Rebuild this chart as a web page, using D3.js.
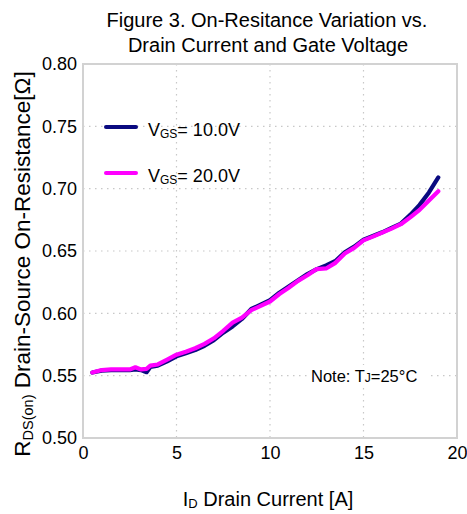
<!DOCTYPE html>
<html><head><meta charset="utf-8">
<script src="https://cdn.jsdelivr.net/npm/d3@7"></script>
<style>body{margin:0;background:#fff}svg{display:block}text{font-family:"Liberation Sans",Arial,sans-serif;fill:#000}</style>
</head><body>
<script>
const current = [0.5,1,1.5,2,2.5,2.8,3.1,3.4,3.6,4,4.5,5,5.5,6,6.5,7,7.5,8,8.5,9,9.5,10,10.5,11,11.5,12,12.5,13,13.5,14,14.5,15,15.5,16,16.5,17,17.5,18,18.5,19];
const rds10 = [0.5525,0.554,0.5545,0.5545,0.5545,0.555,0.5545,0.5528,0.557,0.558,0.5615,0.5655,0.568,0.5705,0.574,0.5785,0.5845,0.5895,0.5955,0.6035,0.607,0.6105,0.6165,0.6215,0.6265,0.6315,0.6355,0.6385,0.642,0.649,0.6535,0.659,0.662,0.665,0.6685,0.672,0.679,0.687,0.697,0.709];
const rds20 = [0.5525,0.5545,0.555,0.555,0.555,0.5567,0.555,0.5555,0.558,0.559,0.5628,0.5668,0.5692,0.572,0.5755,0.58,0.586,0.5925,0.5965,0.6025,0.606,0.6095,0.6155,0.6205,0.626,0.6305,0.6355,0.636,0.6405,0.648,0.6525,0.6585,0.6615,0.6648,0.668,0.6715,0.677,0.683,0.6905,0.698];
const xTicks = [0,5,10,15,20];
const yTicks = [0.50,0.55,0.60,0.65,0.70,0.75,0.80];
const seriesNames = ["10.0V","20.0V"];
const seriesColors = ["#0a0a80","#ff00ff"];

const W=467,H=514;
const L=83,R=457,T=64,B=438;
const svg=d3.select("body").append("svg").attr("width",W).attr("height",H);
const x=d3.scaleLinear().domain([0,20]).range([L,R]);
const y=d3.scaleLinear().domain([0.5,0.8]).range([B,T]);

// grid
const g=svg.append("g");
g.selectAll(".gx").data(xTicks.slice(1,-1)).enter().append("line")
 .attr("x1",d=>x(d)).attr("x2",d=>x(d)).attr("y1",T).attr("y2",B)
 .attr("stroke","#c8c8c8").attr("stroke-width",1.2).attr("stroke-dasharray","1.5,4.5");
g.selectAll(".gy").data(yTicks.slice(1,-1)).enter().append("line")
 .attr("x1",L).attr("x2",R).attr("y1",d=>y(d)).attr("y2",d=>y(d))
 .attr("stroke","#c8c8c8").attr("stroke-width",1.2).attr("stroke-dasharray","1.5,4.5");
// frame
svg.append("rect").attr("x",L).attr("y",T).attr("width",R-L).attr("height",B-T)
 .attr("fill","none").attr("stroke","#d2d2d2").attr("stroke-width",2);

// axes
const xa=svg.append("g").attr("transform",`translate(0,${B})`)
 .call(d3.axisBottom(x).tickValues(xTicks).tickSize(0).tickPadding(8).tickFormat(d3.format("d")));
xa.select(".domain").remove();
xa.selectAll("text").style("font-size","18px").attr("dy","0.71em");
const ya=svg.append("g").attr("transform",`translate(${L},0)`)
 .call(d3.axisLeft(y).tickValues(yTicks).tickSize(0).tickPadding(6).tickFormat(d3.format(".2f")));
ya.select(".domain").remove();
ya.selectAll("text").style("font-size","18px");

// note
const note=svg.append("g");
note.append("rect").attr("x",307).attr("y",365).attr("width",120).attr("height",21).attr("fill","#fff");
const nt=note.append("text").attr("x",311).attr("y",382).style("font-size","16.5px");
nt.append("tspan").text("Note: T");
nt.append("tspan").text("J").style("font-size","12px");
nt.append("tspan").text("=25°C");

// lines
const line=d3.line().x(d=>x(d[0])).y(d=>y(d[1])).curve(d3.curveLinear);
[rds10,rds20].forEach((s,i)=>{
  svg.append("path").datum(current.map((c,j)=>[c,s[j]]))
   .attr("d",line).attr("fill","none").attr("stroke",seriesColors[i])
   .attr("stroke-width",4.2).attr("stroke-linejoin","round").attr("stroke-linecap","round");
});

// legend
seriesNames.forEach((n,i)=>{
  const ly=127+i*46;
  svg.append("line").attr("x1",106).attr("x2",136).attr("y1",ly).attr("y2",ly)
   .attr("stroke",seriesColors[i]).attr("stroke-width",4).attr("stroke-linecap","round");
  const t=svg.append("text").attr("x",148).attr("y",ly+9).style("font-size","18px");
  t.append("tspan").text("V");
  t.append("tspan").text("GS").style("font-size","12px").attr("dy","2");
  t.append("tspan").text("= "+n).attr("dy","-2");
});

// title
const title=svg.append("text").attr("text-anchor","middle").style("font-size","20px");
title.append("tspan").attr("x",267).attr("y",27).text("Figure 3. On-Resitance Variation vs.");
title.append("tspan").attr("x",268).attr("y",52).text("Drain Current and Gate Voltage");

// x title
const xt=svg.append("text").attr("x",268).attr("y",506).attr("text-anchor","middle").style("font-size","20px");
xt.append("tspan").text("I");
xt.append("tspan").text("D").style("font-size","13px").attr("dy","2");
xt.append("tspan").text(" Drain Current [A]").attr("dy","-2");

// y title
const yt=svg.append("text").attr("transform","translate(30,264) rotate(-90)").attr("text-anchor","middle").style("font-size","22.5px");
yt.append("tspan").text("R");
yt.append("tspan").text("DS(on)").style("font-size","14.5px").attr("dy","3");
yt.append("tspan").text(" Drain-Source On-Resistance[Ω]").attr("dy","-3");
</script>
</body></html>
